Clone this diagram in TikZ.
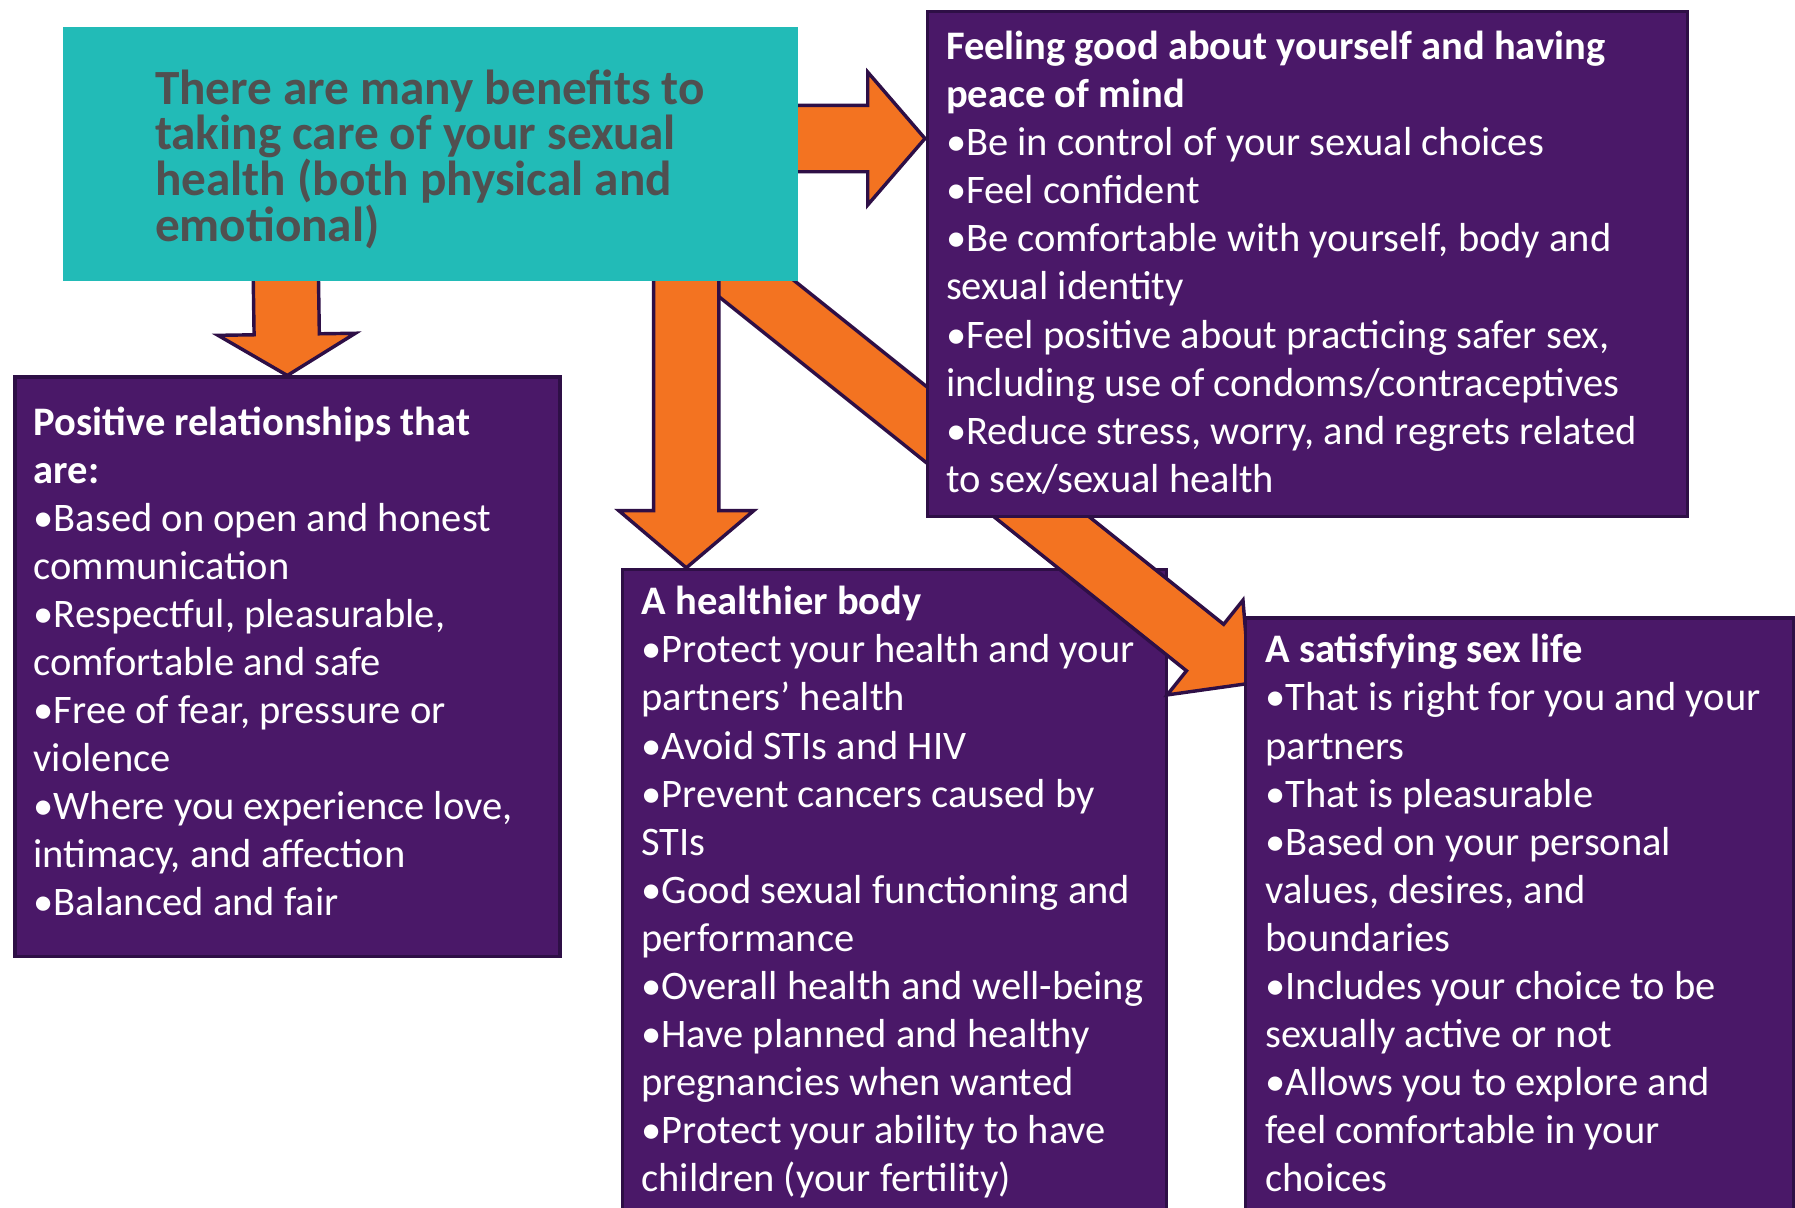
\documentclass[tikz,border=0pt]{standalone}
\usepackage{fontspec}
\setmainfont{Carlito}
\usetikzlibrary{calc}

\definecolor{boxpurple}{HTML}{4A1868}
\definecolor{edgepurple}{HTML}{2E0F46}
\definecolor{arroworange}{HTML}{F37321}
\definecolor{headteal}{HTML}{22BBB7}
\definecolor{headgray}{HTML}{505050}

\tikzset{
  purplebox/.style={draw=edgepurple, fill=boxpurple, line width=1.5pt, inner sep=0pt, anchor=north west},
  boxtext/.style={anchor=base west, align=left, inner sep=0pt, text=white, font=\fontsize{17.7}{21}\selectfont},
  blockarrow/.style={draw=edgepurple, fill=arroworange, line width=1.5pt, line join=miter},
}

% block arrow: from, to, shaft half width, head half width, head length
\newcommand{\blockarrow}[5]{%
  \coordinate (#1-base) at ($(#2)!#5!(#1)$);
  \filldraw[blockarrow] ($(#1)!#3!90:(#2)$) -- ($(#1-base)!#3!90:(#2)$)
    -- ($(#1-base)!#4!90:(#2)$) -- (#2) -- ($(#1-base)!#4!-90:(#2)$)
    -- ($(#1-base)!#3!-90:(#2)$) -- ($(#1)!#3!-90:(#2)$) -- cycle;
}

\begin{document}
\begin{tikzpicture}[x=0.5pt,y=0.5pt]
\useasboundingbox (0,0) rectangle (1568,-1055);

% boxes under the arrows
\node[purplebox, minimum width=237.5pt, minimum height=287pt] (body) at (542.5,-496) {};
\node[purplebox, minimum width=238pt, minimum height=253pt] (rel) at (11.5,-328) {};

% arrows
\coordinate (a1) at (680,-121);
\coordinate (t1) at (808,-121);
\coordinate (a2) at (249.5,-230);
\coordinate (a3) at (599.5,-230);
\coordinate (t3) at (599.5,-496);
\coordinate (a4) at (603.6,-206.3);
\coordinate (t4) at (1091.7,-596.9);
\blockarrow{a4}{t4}{13pt}{26.5pt}{25pt}
\blockarrow{a1}{t1}{14.5pt}{29pt}{25pt}
\blockarrow{a2}{rel.north}{14.25pt}{30pt}{18pt}
\blockarrow{a3}{t3}{14.25pt}{29.5pt}{25pt}

% boxes
\node[fill=headteal, inner sep=0pt, anchor=north west, minimum width=321pt, minimum height=111pt] (main) at (55,-23) {};
\node[purplebox, minimum width=332pt, minimum height=220.5pt] (peace) at (808.5,-8.5) {};
\node[purplebox, minimum width=239.5pt, minimum height=266pt] (sex) at (1086.5,-538.5) {};

% texts (anchor base = last line)
\node[anchor=base west, align=left, inner sep=0pt, text=headgray, font=\fontsize{21.5}{20}\selectfont\bfseries] (maintext) at (135,-211)
  {There are many benefits to\\taking care of your sexual\\health (both physical and\\emotional)};
\node[boxtext] (peacetext) at (826,-430)
  {\textbf{Feeling good about yourself and having}\\\textbf{peace of mind}\\
   •Be in control of your sexual choices\\•Feel confident\\
   •Be comfortable with yourself, body and\\sexual identity\\
   •Feel positive about practicing safer sex,\\including use of condoms/contraceptives\\
   •Reduce stress, worry, and regrets related\\to sex/sexual health};
\node[boxtext] (reltext) at (29,-800)
  {\textbf{Positive relationships that}\\\textbf{are:}\\
   •Based on open and honest\\communication\\
   •Respectful, pleasurable,\\comfortable and safe\\
   •Free of fear, pressure or\\violence\\
   •Where you experience love,\\intimacy, and affection\\
   •Balanced and fair};
\node[boxtext] (bodytext) at (560,-1041)
  {\textbf{A healthier body}\\
   •Protect your health and your\\partners’ health\\
   •Avoid STIs and HIV\\
   •Prevent cancers caused by\\STIs\\
   •Good sexual functioning and\\performance\\
   •Overall health and well-being\\
   •Have planned and healthy\\pregnancies when wanted\\
   •Protect your ability to have\\children (your fertility)};
\node[boxtext] (sextext) at (1105,-1041)
  {\textbf{A satisfying sex life}\\
   •That is right for you and your\\partners\\
   •That is pleasurable\\
   •Based on your personal\\values, desires, and\\boundaries\\
   •Includes your choice to be\\sexually active or not\\
   •Allows you to explore and\\feel comfortable in your\\choices};
\end{tikzpicture}
\end{document}
